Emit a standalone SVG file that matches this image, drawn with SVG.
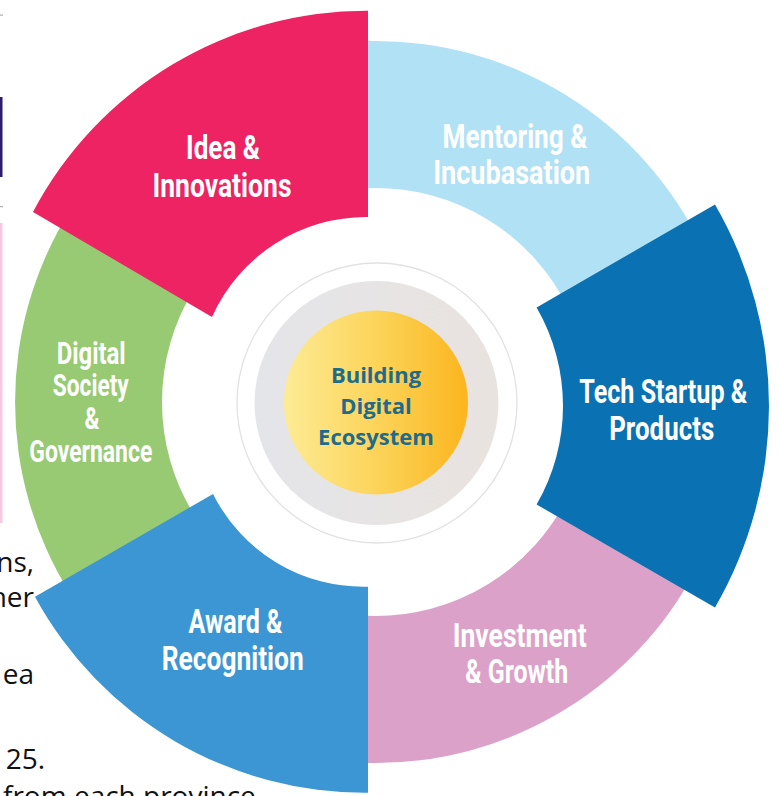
<svg xmlns="http://www.w3.org/2000/svg" width="779" height="796" viewBox="0 0 779 796">
  <defs>
    <linearGradient id="gYellow" x1="0" y1="0" x2="1" y2="0">
      <stop offset="0" stop-color="#FDEB95"/>
      <stop offset="0.5" stop-color="#FCD45A"/>
      <stop offset="1" stop-color="#FBB51E"/>
    </linearGradient>
    <linearGradient id="gGray" x1="0" y1="0" x2="1" y2="0">
      <stop offset="0" stop-color="#E4E5E9"/>
      <stop offset="1" stop-color="#E9E3DF"/>
    </linearGradient>
    <style>
      .lbl { font-family: Roboto, "Liberation Sans", Arial, sans-serif; font-weight: 700; font-size: 33px; fill: #FFFFFF; text-anchor: middle; }
      .lbl-s { font-size: 31px; }
      .ctr { font-family: "Open Sans", "Liberation Sans", Arial, sans-serif; font-weight: 700; font-size: 22px; fill: #1E6B8C; text-anchor: middle; }
      .doc { font-family: "Open Sans", "Liberation Sans", Arial, sans-serif; font-size: 28px; fill: #111111; }
    </style>
  </defs>

  <rect width="779" height="796" fill="#FFFFFF"/>

  <g id="page-fragments">
    <rect x="0" y="14.5" width="3" height="1.2" fill="#B0B0B0"/>
    <rect x="0" y="97" width="2.5" height="80" fill="#2D1B6B"/>
    <rect x="0" y="206" width="3" height="1.2" fill="#B0B0B0"/>
    <rect x="0" y="223" width="2.5" height="300" fill="#F8C8E0"/>
    <text class="doc" x="34" y="572" text-anchor="end">ns,</text>
    <text class="doc" x="34" y="607" text-anchor="end">her</text>
    <text class="doc" x="34" y="684" text-anchor="end">ea</text>
    <text class="doc" x="45" y="769" text-anchor="end">25.</text>
    <text class="doc" x="3" y="806">from each province</text>
  </g>

  <g id="connectors"/>

  <g id="mentoring">
    <path d="M 368,41.1 A 361 361 0 0 1 703.2,249.4 L 569.9,311.6 A 214 214 0 0 0 368,188.15 Z" fill="#B1E1F4"/>
    <text class="lbl" x="515" y="148.3" textLength="145" lengthAdjust="spacingAndGlyphs">Mentoring &amp;</text>
    <text class="lbl" x="511.7" y="184" textLength="157" lengthAdjust="spacingAndGlyphs">Incubasation</text>
  </g>

  <g id="investment">
    <path d="M 368,762.9 A 361 361 0 0 0 703.2,554.6 L 569.9,492.4 A 214 214 0 0 1 368,615.85 Z" fill="#DCA1C8"/>
    <text class="lbl" x="519.7" y="646.7" textLength="134" lengthAdjust="spacingAndGlyphs">Investment</text>
    <text class="lbl" x="516.7" y="683.3" textLength="103" lengthAdjust="spacingAndGlyphs">&amp; Growth</text>
  </g>

  <g id="digital-society">
    <path d="M 69.9,210.7 A 361 361 0 0 0 69.9,593.3 L 194.5,515.4 A 214 214 0 0 1 194.5,288.6 Z" fill="#97CA72"/>
    <text class="lbl lbl-s" x="91.2" y="364" textLength="69" lengthAdjust="spacingAndGlyphs">Digital</text>
    <text class="lbl lbl-s" x="90.8" y="396" textLength="76" lengthAdjust="spacingAndGlyphs">Society</text>
    <text class="lbl lbl-s" x="92" y="429.3" textLength="15" lengthAdjust="spacingAndGlyphs">&amp;</text>
    <text class="lbl lbl-s" x="90.8" y="461.7" textLength="123" lengthAdjust="spacingAndGlyphs">Governance</text>
  </g>

  <g id="tech-startup">
    <path d="M 536.6,307.5 L 715,204.5 A 403 403 0 0 1 715,607.5 L 536.6,504.5 A 197 197 0 0 0 536.6,307.5 Z" fill="#0A72B3"/>
    <text class="lbl" x="663.3" y="403" textLength="168" lengthAdjust="spacingAndGlyphs">Tech Startup &amp;</text>
    <text class="lbl" x="661.7" y="440" textLength="105" lengthAdjust="spacingAndGlyphs">Products</text>
  </g>

  <g id="idea">
    <path d="M 368,10.7 L 368,217 A 169 169 0 0 0 212,317 L 33,212 A 377 377 0 0 1 368,10.7 Z" fill="#ED2363"/>
    <text class="lbl" x="223" y="159.3" textLength="74" lengthAdjust="spacingAndGlyphs">Idea &amp;</text>
    <text class="lbl" x="222" y="196.7" textLength="139" lengthAdjust="spacingAndGlyphs">Innovations</text>
  </g>

  <g id="award">
    <path d="M 368,586.7 L 368,792.7 A 375 375 0 0 1 35,596.7 L 213,494 A 168 168 0 0 0 368,586.7 Z" fill="#3B96D3"/>
    <text class="lbl" x="235.5" y="633.3" textLength="94" lengthAdjust="spacingAndGlyphs">Award &amp;</text>
    <text class="lbl" x="232.7" y="670" textLength="142" lengthAdjust="spacingAndGlyphs">Recognition</text>
  </g>

  <g id="center">
    <circle cx="377" cy="403" r="140" fill="#FFFFFF" stroke="#E2E2E2" stroke-width="1.3"/>
    <circle cx="376.5" cy="403" r="122" fill="url(#gGray)"/>
    <circle cx="376" cy="402.5" r="92" fill="url(#gYellow)"/>
    <text class="ctr" x="376" y="383">Building</text>
    <text class="ctr" x="376" y="414">Digital</text>
    <text class="ctr" x="376" y="445">Ecosystem</text>
  </g>
</svg>
